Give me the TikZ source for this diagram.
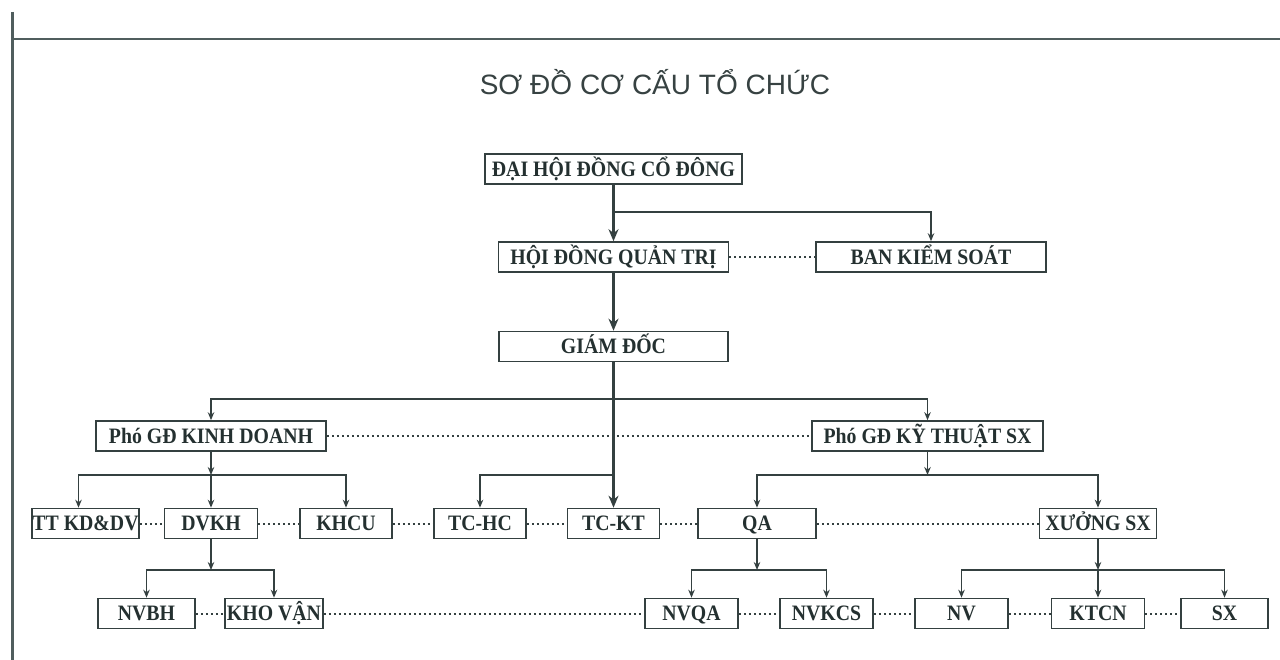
\documentclass[tikz,border=0pt]{standalone}
\usepackage{fontspec}
\setmainfont{Liberation Serif}
\newfontfamily\boxfont{Liberation Serif}[FakeStretch=0.9]
\newfontfamily\titlefont{Liberation Sans}
\usetikzlibrary{arrows.meta,calc}
\definecolor{ink}{RGB}{36,48,48}
\definecolor{linec}{RGB}{52,64,64}
\definecolor{framec}{RGB}{80,94,94}
\definecolor{titlec}{RGB}{55,66,66}
\begin{document}
\begin{tikzpicture}[x=1pt,y=-1pt,
  box/.style={draw=linec, line width=1.6pt, fill=white, inner sep=0pt, text=ink,
    font=\boxfont\fontsize{22}{22}\selectfont\bfseries, text height=14.4pt, text depth=0pt,
    minimum height=30pt},
  arr/.style={draw=linec, line width=1.7pt, -{Stealth[length=8pt,width=6.5pt]}},
  bigarr/.style={draw=linec, line width=2.5pt, -{Stealth[length=12pt,width=10pt]}},
  dotlink/.style={draw=linec, line width=2pt, dash pattern=on 2pt off 3pt},
  framel/.style={draw=framec, line width=3pt}]
\useasboundingbox (0,0) rectangle (1280,660);
\fill[white] (0,0) rectangle (1280,660);
% frame
\coordinate (ftop) at (12,12);
\coordinate (fbot) at (12,660);
\coordinate (hl) at (12,39);
\coordinate (hr) at (1280,39);
\draw[framel] (ftop) -- (fbot);
\draw[framel, line width=2.2pt] (hl) -- (hr);
% title
\node[font=\titlefont\fontsize{28}{28}\selectfont, text=titlec, anchor=base, inner sep=0pt] (title) at (655,95) {SƠ ĐỒ CƠ CẤU TỔ CHỨC};
% boxes
\node[box, minimum width=257pt] (dh) at (613.5,169) {ĐẠI HỘI ĐỒNG CỔ ĐÔNG};
\node[box, minimum width=230pt] (hq) at (613.5,257) {HỘI ĐỒNG QUẢN TRỊ};
\node[box, minimum width=230pt] (bks) at (931,257) {BAN KIỂM SOÁT};
\node[box, minimum width=229pt] (gd) at (613.5,346.5) {GIÁM ĐỐC};
\node[box, minimum width=230pt] (pkd) at (211,436) {Phó GĐ KINH DOANH};
\node[box, minimum width=231pt] (pkt) at (927.5,436) {Phó GĐ KỸ THUẬT SX};
% row 3
\node[box, minimum width=107pt] (ttkd) at (85.5,523.5) {TT KD\&DV};
\node[box, minimum width=93pt] (dvkh) at (211,523.5) {DVKH};
\node[box, minimum width=92pt] (khcu) at (346,523.5) {KHCU};
\node[box, minimum width=92pt] (tchc) at (480,523.5) {TC-HC};
\node[box, minimum width=92pt] (tckt) at (613.5,523.5) {TC-KT};
\node[box, minimum width=118pt] (qa) at (757,523.5) {QA};
\node[box, minimum width=117pt] (xsx) at (1098,523.5) {XƯỞNG SX};
% row 4
\node[box, minimum width=97pt] (nvbh) at (146.5,613.5) {NVBH};
\node[box, minimum width=98pt] (khov) at (274,613.5) {KHO VẬN};
\node[box, minimum width=93pt] (nvqa) at (691.5,613.5) {NVQA};
\node[box, minimum width=93pt] (nvkcs) at (826.5,613.5) {NVKCS};
\node[box, minimum width=93pt] (nv) at (961.5,613.5) {NV};
\node[box, minimum width=93pt] (ktcn) at (1098,613.5) {KTCN};
\node[box, minimum width=87pt] (sx) at (1224.5,613.5) {SX};
% junction coordinates
\coordinate (j0) at (613.5,212);
\coordinate (j1) at (613.5,399);
\coordinate (jkd) at (211,475);
\coordinate (jtc) at (613.5,475);
\coordinate (jkt) at (927.5,475);
\coordinate (jdv) at (211,570);
\coordinate (jqa) at (757,570);
\coordinate (jx) at (1098,570);
% main spine
\draw[bigarr] (dh.south) -- (hq.north);
\draw[bigarr] (hq.south) -- (gd.north);
\draw[bigarr] (gd.south) -- (tckt.north);
\draw[arr] (j0) -| (bks.north);
\draw[arr] (j1) -| (pkd.north);
\draw[arr] (j1) -| (pkt.north);
\draw[arr] (jtc) -| (tchc.north);
% KD branch
\draw[arr] (pkd.south) -- (jkd);
\draw[arr] (jkd) -| ([xshift=-7pt]ttkd.north);
\draw[arr] (jkd) -- (dvkh.north);
\draw[arr] (jkd) -| (khcu.north);
% KT branch
\draw[arr] (pkt.south) -- (jkt);
\draw[arr] (jkt) -| (qa.north);
\draw[arr] (jkt) -| (xsx.north);
% row 4 branches
\draw[arr] (dvkh.south) -- (jdv);
\draw[arr] (jdv) -| (nvbh.north);
\draw[arr] (jdv) -| (khov.north);
\draw[arr] (qa.south) -- (jqa);
\draw[arr] (jqa) -| (nvqa.north);
\draw[arr] (jqa) -| (nvkcs.north);
\draw[arr] (xsx.south) -- (jx);
\draw[arr] (jx) -| (nv.north);
\draw[arr] (jx) -- (ktcn.north);
\draw[arr] (jx) -| (sx.north);
% dotted links
\draw[dotlink] (hq.east) -- (bks.west);
\draw[dotlink] (pkd.east) -- (pkt.west);
\draw[dotlink] (ttkd.east) -- (dvkh.west);
\draw[dotlink] (dvkh.east) -- (khcu.west);
\draw[dotlink] (khcu.east) -- (tchc.west);
\draw[dotlink] (tchc.east) -- (tckt.west);
\draw[dotlink] (tckt.east) -- (qa.west);
\draw[dotlink] (qa.east) -- (xsx.west);
\draw[dotlink] (nvbh.east) -- (khov.west);
\draw[dotlink] (khov.east) -- (nvqa.west);
\draw[dotlink] (nvqa.east) -- (nvkcs.west);
\draw[dotlink] (nvkcs.east) -- (nv.west);
\draw[dotlink] (nv.east) -- (ktcn.west);
\draw[dotlink] (ktcn.east) -- (sx.west);
\end{tikzpicture}
\end{document}
